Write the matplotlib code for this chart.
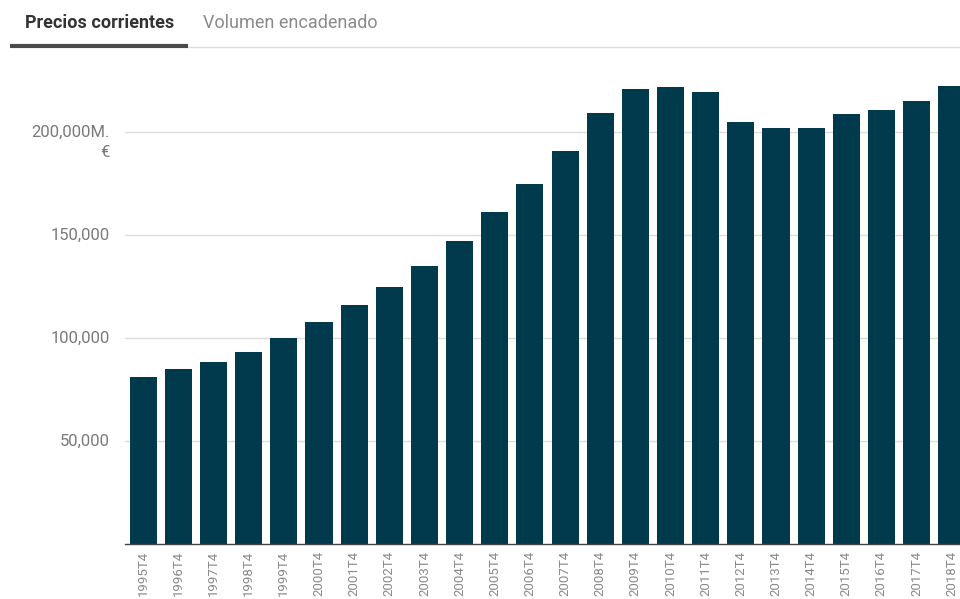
import matplotlib.pyplot as plt
from matplotlib.lines import Line2D

plt.rcParams['font.family'] = ['Roboto', 'DejaVu Sans']

periods = ["1995T4", "1996T4", "1997T4", "1998T4", "1999T4", "2000T4",
           "2001T4", "2002T4", "2003T4", "2004T4", "2005T4", "2006T4",
           "2007T4", "2008T4", "2009T4", "2010T4", "2011T4", "2012T4",
           "2013T4", "2014T4", "2015T4", "2016T4", "2017T4", "2018T4"]
values = [81100, 85000, 88300, 93200, 100000, 107800,
          116000, 124800, 135000, 147000, 161200, 174800,
          190800, 209200, 220900, 221800, 219400, 204900,
          201900, 201900, 208700, 210700, 215000, 222300]
y_ticks = [50000, 100000, 150000, 200000]
y_labels = ["50,000", "100,000", "150,000", "200,000M."]
unit = "€"

W, H = 960, 599
fig = plt.figure(figsize=(W / 100, H / 100), dpi=100)

# axes runs a bit past the right edge, the last bar is cut like in the page
left, right, top, bottom = 125, 970, 60, 544
ax = fig.add_axes([left / W, 1 - bottom / H, (right - left) / W, (bottom - top) / H])

x = range(len(periods))
ax.bar(x, values, width=0.77, color="#013a4c", zorder=2)

ax.set_xlim(-0.52, 23.52)
ax.set_ylim(0, 235000)
ax.set_yticks(y_ticks)
ax.set_yticklabels(y_labels, ha="right", va="center")
ax.tick_params(axis="y", length=0, pad=10.8, labelsize=12, labelcolor="#7a7a7a")
ax.set_xticks(list(x))
ax.set_xticklabels(periods, rotation=90, va="top", ha="center")
ax.tick_params(axis="x", length=0, pad=5, labelsize=9.5, labelcolor="#8a8a8a")
ax.grid(axis="y", color="#dcdcdc", linewidth=1, zorder=0)

# unit sits on its own line under the top label
ax.annotate(unit, xy=(0, y_ticks[-1]), xycoords=("axes fraction", "data"),
            xytext=(-10.8, -14.8), textcoords="offset points",
            ha="right", va="center", fontsize=12, color="#7a7a7a")

for s in ["top", "right", "left"]:
    ax.spines[s].set_visible(False)
ax.spines["bottom"].set_color("#444444")
ax.spines["bottom"].set_linewidth(1)

# tab header
fig.text(25 / W, 1 - 23 / H, "Precios corrientes", fontsize=13, fontweight="bold",
         color="#333333", va="center", ha="left")
fig.text(203 / W, 1 - 23 / H, "Volumen encadenado", fontsize=13,
         color="#8a8a8a", va="center", ha="left")
fig.add_artist(Line2D([188 / W, 1], [1 - 47 / H, 1 - 47 / H], color="#dddddd",
                      linewidth=1, transform=fig.transFigure))
fig.add_artist(Line2D([10 / W, 188 / W], [1 - 45.5 / H, 1 - 45.5 / H], color="#4a4a4a",
                      linewidth=3, transform=fig.transFigure, solid_capstyle="butt"))

fig.savefig("out.png", dpi=100)
